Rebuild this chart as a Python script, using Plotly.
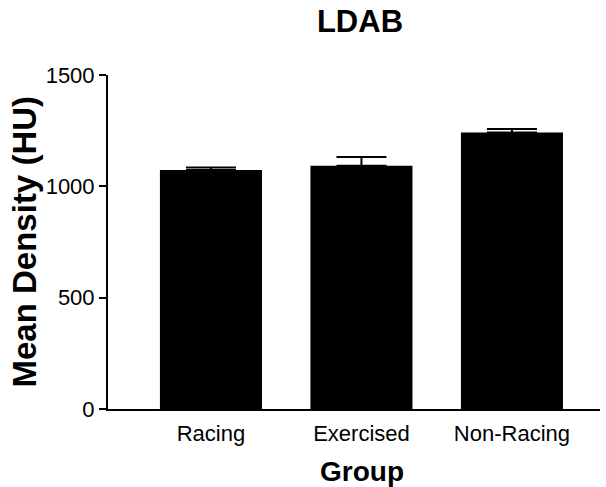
import plotly.graph_objects as go

groups = ["Racing", "Exercised", "Non-Racing"]
mean_density = [1073, 1092, 1242]
sem = [12, 40, 15]
y_ticks = [0, 500, 1000, 1500]

FONT = "Liberation Sans, Arial, sans-serif"

fig = go.Figure(go.Bar(
    x=[0, 1, 2],
    y=mean_density,
    marker=dict(color="black", line=dict(width=0)),
    error_y=dict(type="data", symmetric=False, array=sem,
                 arrayminus=[0] * len(sem), color="black",
                 thickness=2, width=25),
    width=0.678,
))

fig.update_layout(
    width=606, height=487,
    margin=dict(l=108, r=6, t=75, b=78),
    paper_bgcolor="white", plot_bgcolor="white",
    showlegend=False,
    title=dict(text="<b>LDAB</b>", x=360 / 606, xanchor="center",
               y=1 - 21 / 487, yanchor="middle",
               font=dict(family=FONT, size=31, color="black")),
    font=dict(family=FONT, color="black"),
    annotations=[
        dict(text="<b>Group</b>", xref="paper", yref="paper",
             x=(362 - 108) / 492, y=(409 - 471) / 334,
             xanchor="center", yanchor="middle", showarrow=False,
             font=dict(size=28, family=FONT, color="black")),
        dict(text="<b>Mean Density (HU)</b>", xref="paper", yref="paper",
             x=(23.5 - 108) / 492, y=0.5, textangle=-90,
             xanchor="center", yanchor="middle", showarrow=False,
             font=dict(size=33, family=FONT, color="black")),
    ],
)

fig.update_xaxes(
    range=[-0.684, 2.585],
    tickmode="array", tickvals=[0, 1, 2], ticktext=groups,
    ticks="outside", ticklen=4, tickcolor="rgba(0,0,0,0)",
    showgrid=False, zeroline=False,
    showline=True, linecolor="black", linewidth=2,
    tickfont=dict(size=22, family=FONT, color="black"),
)

fig.update_yaxes(
    range=[0, 1500],
    tickmode="array", tickvals=y_ticks, ticktext=[str(v) for v in y_ticks],
    ticks="outside", ticklen=7, tickwidth=2, tickcolor="black",
    showgrid=False, zeroline=False,
    showline=True, linecolor="black", linewidth=2,
    tickfont=dict(size=22, family=FONT, color="black"),
)

fig.write_html("out.html")
